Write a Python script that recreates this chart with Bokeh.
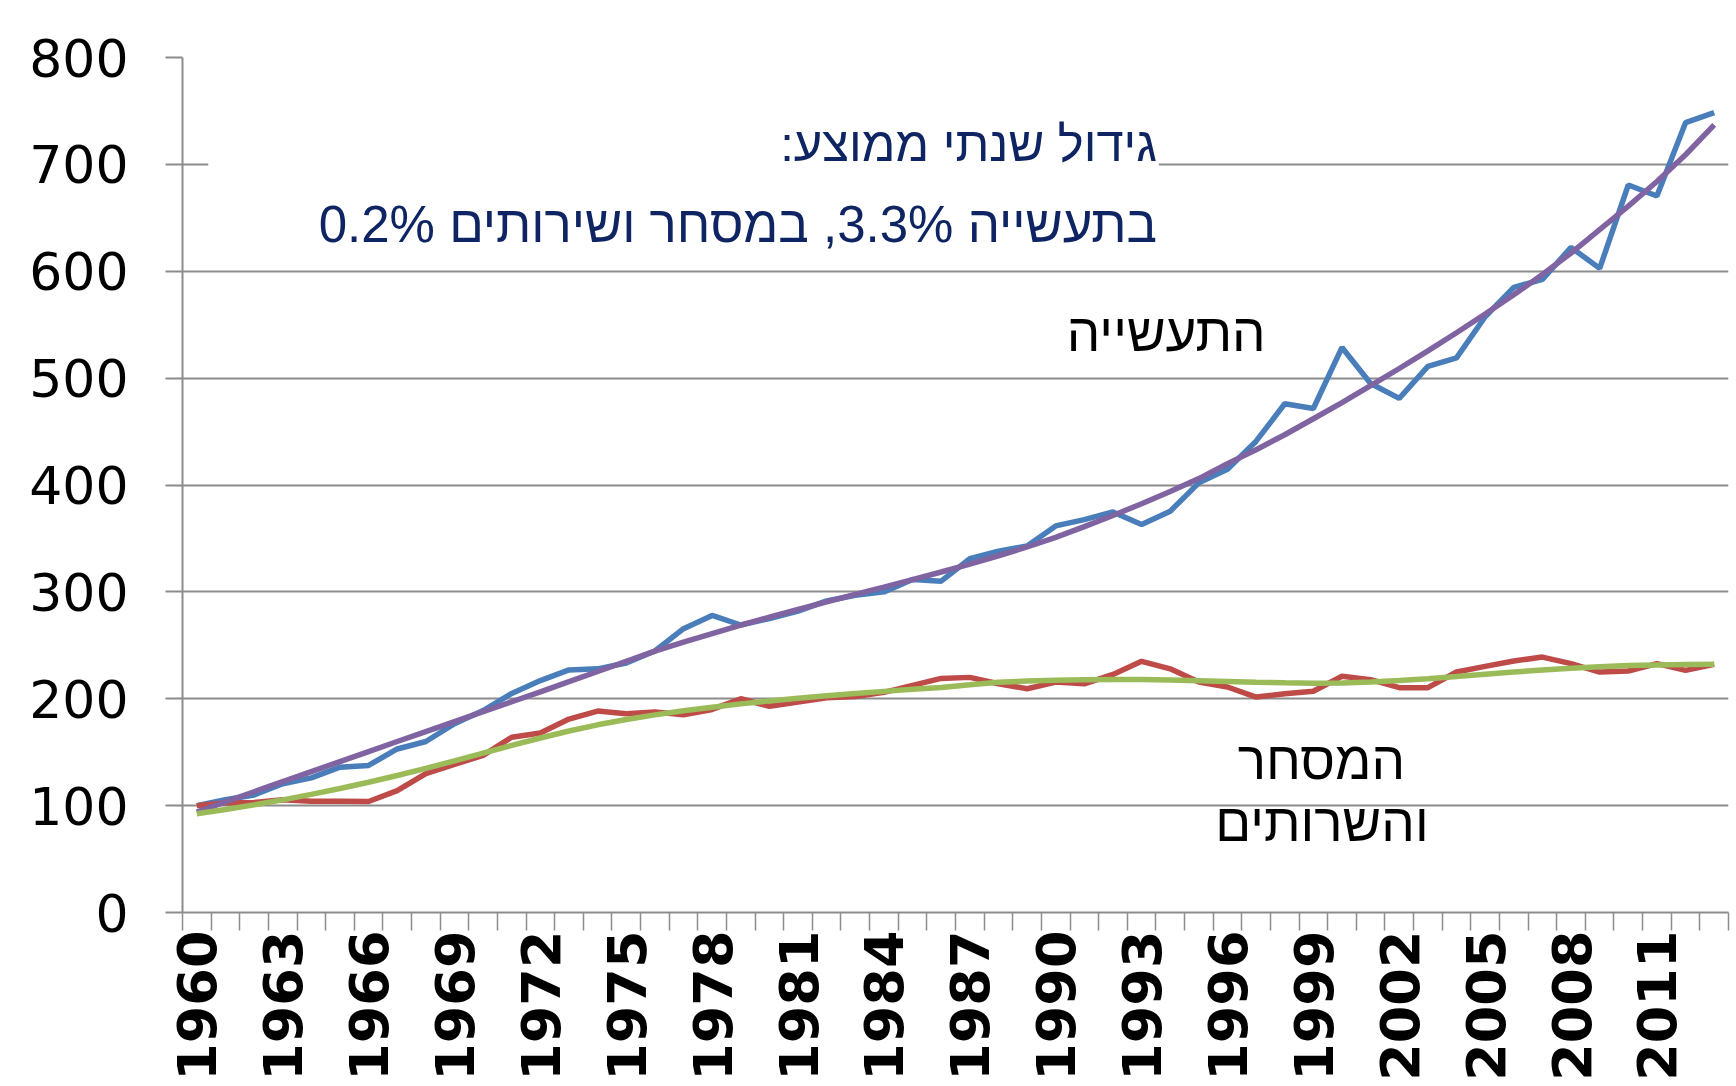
import numpy as np
from bokeh.plotting import figure
from bokeh.models import Range1d, FixedTicker, Label, BoxAnnotation
from bokeh.embed import file_html
from bokeh.resources import INLINE

# ---- data (index, 1960 = 100) ----
years = list(range(1960, 2014))
industry = [100, 105.5, 110, 120.5, 126, 136, 137.6, 153, 160, 176.6,
            189, 205, 217, 227, 228, 233.5, 244.7, 265.6, 278, 269,
            275, 282, 291.5, 296.8, 300, 311.5, 310, 331, 338, 343,
            361.7, 367.6, 374.8, 363, 375.5, 402, 414.8, 441, 476, 471.6,
            528.7, 495, 481, 511, 519, 557.4, 584.9, 592.4, 622.3, 602.7,
            680.7, 670.4, 739, 748.4]
trade = [100, 102.7, 103, 105.4, 104, 104, 103.9, 114, 130, 138.6,
         147, 164, 168, 181, 188.5, 186, 187.6, 185, 190, 200,
         193, 197, 201, 202, 206, 212.5, 219, 220, 214, 209.4,
         215.6, 214, 222.8, 235, 228, 215.6, 211, 201.6, 204.7, 207,
         221, 217.9, 210.4, 210.4, 225, 230.3, 235.3, 239, 232.8, 225,
         226, 232.8, 226.6, 232.2]
# trendlines as drawn in the chart (read per year)
industry_trend = [94, 103.5, 113, 122.4, 131.8, 141.2, 150.6, 160, 169.3, 178.6,
                  187.9, 197.2, 206.5, 216, 225.5, 235, 244.5, 253, 261, 268.8,
                  276.3, 283.5, 290.6, 297.6, 304.5, 311.5, 318.6, 326, 333.8, 342,
                  351, 361, 371.5, 382.5, 394, 406, 420, 433, 447, 462,
                  477, 493, 509, 525.5, 542.5, 560, 578, 597, 617, 639,
                  661, 684, 709, 737]
trade_trend = [92.4, 96.4, 100.7, 105.4, 110.5, 116.0, 121.9, 128.2, 134.9, 141.9,
               149.1, 156.3, 163.3, 169.8, 175.6, 180.6, 184.9, 188.7, 192.1, 195.2,
               198.0, 200.5, 202.8, 204.9, 206.9, 208.8, 210.6, 213.0, 215.5, 216.6,
               217.3, 217.8, 218.0, 217.9, 217.5, 216.9, 216.2, 215.5, 214.9, 214.6,
               214.8, 215.6, 217.0, 218.8, 220.8, 222.9, 225.0, 226.9, 228.6, 230.0,
               231.0, 231.6, 232.0, 232.3]
y_ticks = [0, 100, 200, 300, 400, 500, 600, 700, 800]
x_label_years = list(range(1960, 2012, 3))

note_line1 = "גידול שנתי ממוצע:\u200f"
note_line2 = "בתעשייה 3.3%, במסחר ושירותים 0.2%"
label_industry = "התעשייה"
label_trade_1 = "המסחר"
label_trade_2 = "והשרותים"

GRID = "#8c8c8c"

p = figure(width=1732, height=1085, output_backend="svg", toolbar_location=None,
           x_range=Range1d(1959.5, 2013.5), y_range=Range1d(0, 800),
           min_border_left=182, min_border_right=4, min_border_top=57,
           min_border_bottom=173)
p.outline_line_color = None
p.background_fill_color = "white"
p.border_fill_color = "white"

p.line(years, industry, line_color="#4A7EBB", line_width=5.5)
p.line(years, trade, line_color="#BE4B48", line_width=5.5)
p.line(years, industry_trend, line_color="#8064A2", line_width=5.5)
p.line(years, trade_trend, line_color="#9BBB59", line_width=5.5)

# axes
p.xaxis.ticker = FixedTicker(ticks=x_label_years,
                             minor_ticks=[y - 0.5 for y in years] + [years[-1] + 0.5])
p.xaxis.major_label_orientation = np.pi / 2
p.xaxis.major_tick_out = 0
p.xaxis.major_tick_in = 0
p.xaxis.minor_tick_out = 18
p.xaxis.minor_tick_in = 0
p.xaxis.minor_tick_line_color = GRID
p.xaxis.minor_tick_line_width = 1.5
p.xaxis.axis_line_color = GRID
p.xaxis.axis_line_width = 2
p.xaxis.major_label_text_font = "DejaVu Sans"
p.xaxis.major_label_text_font_style = "bold"
p.xaxis.major_label_text_font_size = "54px"
p.xaxis.major_label_text_color = "black"
p.xaxis.major_label_standoff = 0

p.yaxis.ticker = FixedTicker(ticks=y_ticks)
p.yaxis.major_tick_out = 17
p.yaxis.major_tick_in = 0
p.yaxis.minor_tick_out = 0
p.yaxis.minor_tick_in = 0
p.yaxis.major_tick_line_color = GRID
p.yaxis.major_tick_line_width = 2
p.yaxis.axis_line_color = GRID
p.yaxis.axis_line_width = 2
p.yaxis.major_label_text_font = "DejaVu Sans"
p.yaxis.major_label_text_font_size = "52px"
p.yaxis.major_label_text_color = "black"
p.yaxis.major_label_standoff = 37

p.xgrid.grid_line_color = None
p.ygrid.ticker = FixedTicker(ticks=y_ticks)
p.ygrid.grid_line_color = GRID
p.ygrid.grid_line_width = 2

# white text box behind the growth note
p.add_layout(BoxAnnotation(left=1960.4, right=1993.6, bottom=613, top=745,
                           fill_color="white", fill_alpha=1.0, line_color=None))

NAVY = "#0F2462"
p.add_layout(Label(x=1993.54, y=719, text=note_line1, text_align="right",
                   text_baseline="alphabetic", text_font="Liberation Sans",
                   text_font_size="49px", text_color=NAVY))
p.add_layout(Label(x=1993.54, y=643.4, text=note_line2, text_align="right",
                   text_baseline="alphabetic", text_font="Liberation Sans",
                   text_font_size="51px", text_color=NAVY))
p.add_layout(Label(x=1993.86, y=543, text=label_industry, text_align="center",
                   text_baseline="alphabetic", text_font="Liberation Sans",
                   text_font_size="53px", text_color="black"))
p.add_layout(Label(x=1999.28, y=142.5, text=label_trade_1, text_align="center",
                   text_baseline="alphabetic", text_font="Liberation Sans",
                   text_font_size="53px", text_color="black"))
p.add_layout(Label(x=1999.3, y=84.4, text=label_trade_2, text_align="center",
                   text_baseline="alphabetic", text_font="Liberation Sans",
                   text_font_size="53px", text_color="black"))

open("out.html", "w").write(file_html(p, INLINE))
